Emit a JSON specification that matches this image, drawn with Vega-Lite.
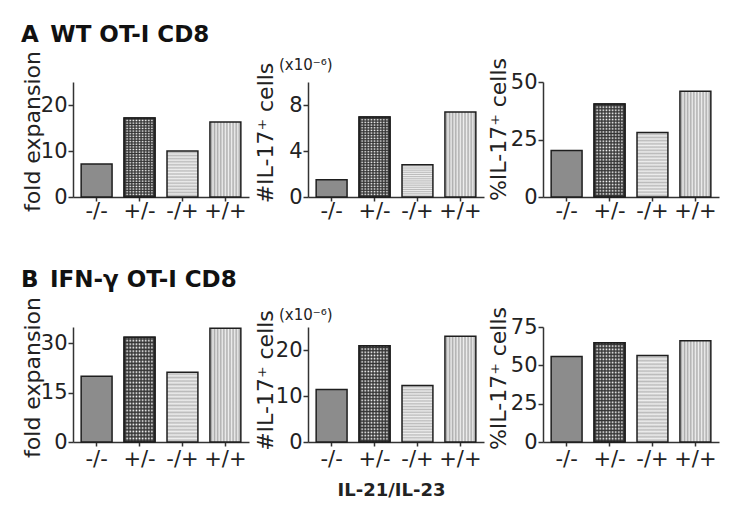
{
"$schema":"https://vega.github.io/schema/vega-lite/v6.json",
"background":"white",
"padding":{"left":21,"top":23,"right":5,"bottom":5},
"params":[
 {"name":"vs10","value":{"gradient":"linear","x1":0,"y1":0,"x2":1,"y2":0,"stops":[{"offset":0,"color":"#eee"},{"offset":0.05,"color":"#aaa"},{"offset":0.1,"color":"#eee"},{"offset":0.15,"color":"#aaa"},{"offset":0.2,"color":"#eee"},{"offset":0.25,"color":"#aaa"},{"offset":0.3,"color":"#eee"},{"offset":0.35,"color":"#aaa"},{"offset":0.4,"color":"#eee"},{"offset":0.45,"color":"#aaa"},{"offset":0.5,"color":"#eee"},{"offset":0.55,"color":"#aaa"},{"offset":0.6,"color":"#eee"},{"offset":0.65,"color":"#aaa"},{"offset":0.7,"color":"#eee"},{"offset":0.75,"color":"#aaa"},{"offset":0.8,"color":"#eee"},{"offset":0.85,"color":"#aaa"},{"offset":0.9,"color":"#eee"},{"offset":0.95,"color":"#aaa"},{"offset":1,"color":"#eee"}]}},
 {"name":"cv10","value":{"gradient":"linear","x1":0,"y1":0,"x2":1,"y2":0,"stops":[{"offset":0,"color":"#fff"},{"offset":0.05,"color":"#333"},{"offset":0.1,"color":"#fff"},{"offset":0.15,"color":"#333"},{"offset":0.2,"color":"#fff"},{"offset":0.25,"color":"#333"},{"offset":0.3,"color":"#fff"},{"offset":0.35,"color":"#333"},{"offset":0.4,"color":"#fff"},{"offset":0.45,"color":"#333"},{"offset":0.5,"color":"#fff"},{"offset":0.55,"color":"#333"},{"offset":0.6,"color":"#fff"},{"offset":0.65,"color":"#333"},{"offset":0.7,"color":"#fff"},{"offset":0.75,"color":"#333"},{"offset":0.8,"color":"#fff"},{"offset":0.85,"color":"#333"},{"offset":0.9,"color":"#fff"},{"offset":0.95,"color":"#333"},{"offset":1,"color":"#fff"}]}},
 {"name":"ch30","value":{"gradient":"linear","x1":0,"y1":0,"x2":0,"y2":1,"stops":[{"offset":0,"color":"rgba(51,51,51,0)"},{"offset":0.0167,"color":"#333"},{"offset":0.0333,"color":"rgba(51,51,51,0)"},{"offset":0.05,"color":"#333"},{"offset":0.0667,"color":"rgba(51,51,51,0)"},{"offset":0.0833,"color":"#333"},{"offset":0.1,"color":"rgba(51,51,51,0)"},{"offset":0.1167,"color":"#333"},{"offset":0.1333,"color":"rgba(51,51,51,0)"},{"offset":0.15,"color":"#333"},{"offset":0.1667,"color":"rgba(51,51,51,0)"},{"offset":0.1833,"color":"#333"},{"offset":0.2,"color":"rgba(51,51,51,0)"},{"offset":0.2167,"color":"#333"},{"offset":0.2333,"color":"rgba(51,51,51,0)"},{"offset":0.25,"color":"#333"},{"offset":0.2667,"color":"rgba(51,51,51,0)"},{"offset":0.2833,"color":"#333"},{"offset":0.3,"color":"rgba(51,51,51,0)"},{"offset":0.3167,"color":"#333"},{"offset":0.3333,"color":"rgba(51,51,51,0)"},{"offset":0.35,"color":"#333"},{"offset":0.3667,"color":"rgba(51,51,51,0)"},{"offset":0.3833,"color":"#333"},{"offset":0.4,"color":"rgba(51,51,51,0)"},{"offset":0.4167,"color":"#333"},{"offset":0.4333,"color":"rgba(51,51,51,0)"},{"offset":0.45,"color":"#333"},{"offset":0.4667,"color":"rgba(51,51,51,0)"},{"offset":0.4833,"color":"#333"},{"offset":0.5,"color":"rgba(51,51,51,0)"},{"offset":0.5167,"color":"#333"},{"offset":0.5333,"color":"rgba(51,51,51,0)"},{"offset":0.55,"color":"#333"},{"offset":0.5667,"color":"rgba(51,51,51,0)"},{"offset":0.5833,"color":"#333"},{"offset":0.6,"color":"rgba(51,51,51,0)"},{"offset":0.6167,"color":"#333"},{"offset":0.6333,"color":"rgba(51,51,51,0)"},{"offset":0.65,"color":"#333"},{"offset":0.6667,"color":"rgba(51,51,51,0)"},{"offset":0.6833,"color":"#333"},{"offset":0.7,"color":"rgba(51,51,51,0)"},{"offset":0.7167,"color":"#333"},{"offset":0.7333,"color":"rgba(51,51,51,0)"},{"offset":0.75,"color":"#333"},{"offset":0.7667,"color":"rgba(51,51,51,0)"},{"offset":0.7833,"color":"#333"},{"offset":0.8,"color":"rgba(51,51,51,0)"},{"offset":0.8167,"color":"#333"},{"offset":0.8333,"color":"rgba(51,51,51,0)"},{"offset":0.85,"color":"#333"},{"offset":0.8667,"color":"rgba(51,51,51,0)"},{"offset":0.8833,"color":"#333"},{"offset":0.9,"color":"rgba(51,51,51,0)"},{"offset":0.9167,"color":"#333"},{"offset":0.9333,"color":"rgba(51,51,51,0)"},{"offset":0.95,"color":"#333"},{"offset":0.9667,"color":"rgba(51,51,51,0)"},{"offset":0.9833,"color":"#333"},{"offset":1,"color":"rgba(51,51,51,0)"}]}},
 {"name":"hs15","value":{"gradient":"linear","x1":0,"y1":0,"x2":0,"y2":1,"stops":[{"offset":0,"color":"#eee"},{"offset":0.0333,"color":"#bbb"},{"offset":0.0667,"color":"#eee"},{"offset":0.1,"color":"#bbb"},{"offset":0.1333,"color":"#eee"},{"offset":0.1667,"color":"#bbb"},{"offset":0.2,"color":"#eee"},{"offset":0.2333,"color":"#bbb"},{"offset":0.2667,"color":"#eee"},{"offset":0.3,"color":"#bbb"},{"offset":0.3333,"color":"#eee"},{"offset":0.3667,"color":"#bbb"},{"offset":0.4,"color":"#eee"},{"offset":0.4333,"color":"#bbb"},{"offset":0.4667,"color":"#eee"},{"offset":0.5,"color":"#bbb"},{"offset":0.5333,"color":"#eee"},{"offset":0.5667,"color":"#bbb"},{"offset":0.6,"color":"#eee"},{"offset":0.6333,"color":"#bbb"},{"offset":0.6667,"color":"#eee"},{"offset":0.7,"color":"#bbb"},{"offset":0.7333,"color":"#eee"},{"offset":0.7667,"color":"#bbb"},{"offset":0.8,"color":"#eee"},{"offset":0.8333,"color":"#bbb"},{"offset":0.8667,"color":"#eee"},{"offset":0.9,"color":"#bbb"},{"offset":0.9333,"color":"#eee"},{"offset":0.9667,"color":"#bbb"},{"offset":1,"color":"#eee"}]}},
 {"name":"hs20","value":{"gradient":"linear","x1":0,"y1":0,"x2":0,"y2":1,"stops":[{"offset":0,"color":"#eee"},{"offset":0.025,"color":"#bbb"},{"offset":0.05,"color":"#eee"},{"offset":0.075,"color":"#bbb"},{"offset":0.1,"color":"#eee"},{"offset":0.125,"color":"#bbb"},{"offset":0.15,"color":"#eee"},{"offset":0.175,"color":"#bbb"},{"offset":0.2,"color":"#eee"},{"offset":0.225,"color":"#bbb"},{"offset":0.25,"color":"#eee"},{"offset":0.275,"color":"#bbb"},{"offset":0.3,"color":"#eee"},{"offset":0.325,"color":"#bbb"},{"offset":0.35,"color":"#eee"},{"offset":0.375,"color":"#bbb"},{"offset":0.4,"color":"#eee"},{"offset":0.425,"color":"#bbb"},{"offset":0.45,"color":"#eee"},{"offset":0.475,"color":"#bbb"},{"offset":0.5,"color":"#eee"},{"offset":0.525,"color":"#bbb"},{"offset":0.55,"color":"#eee"},{"offset":0.575,"color":"#bbb"},{"offset":0.6,"color":"#eee"},{"offset":0.625,"color":"#bbb"},{"offset":0.65,"color":"#eee"},{"offset":0.675,"color":"#bbb"},{"offset":0.7,"color":"#eee"},{"offset":0.725,"color":"#bbb"},{"offset":0.75,"color":"#eee"},{"offset":0.775,"color":"#bbb"},{"offset":0.8,"color":"#eee"},{"offset":0.825,"color":"#bbb"},{"offset":0.85,"color":"#eee"},{"offset":0.875,"color":"#bbb"},{"offset":0.9,"color":"#eee"},{"offset":0.925,"color":"#bbb"},{"offset":0.95,"color":"#eee"},{"offset":0.975,"color":"#bbb"},{"offset":1,"color":"#eee"}]}},
 {"name":"hs25","value":{"gradient":"linear","x1":0,"y1":0,"x2":0,"y2":1,"stops":[{"offset":0,"color":"#eee"},{"offset":0.02,"color":"#bbb"},{"offset":0.04,"color":"#eee"},{"offset":0.06,"color":"#bbb"},{"offset":0.08,"color":"#eee"},{"offset":0.1,"color":"#bbb"},{"offset":0.12,"color":"#eee"},{"offset":0.14,"color":"#bbb"},{"offset":0.16,"color":"#eee"},{"offset":0.18,"color":"#bbb"},{"offset":0.2,"color":"#eee"},{"offset":0.22,"color":"#bbb"},{"offset":0.24,"color":"#eee"},{"offset":0.26,"color":"#bbb"},{"offset":0.28,"color":"#eee"},{"offset":0.3,"color":"#bbb"},{"offset":0.32,"color":"#eee"},{"offset":0.34,"color":"#bbb"},{"offset":0.36,"color":"#eee"},{"offset":0.38,"color":"#bbb"},{"offset":0.4,"color":"#eee"},{"offset":0.42,"color":"#bbb"},{"offset":0.44,"color":"#eee"},{"offset":0.46,"color":"#bbb"},{"offset":0.48,"color":"#eee"},{"offset":0.5,"color":"#bbb"},{"offset":0.52,"color":"#eee"},{"offset":0.54,"color":"#bbb"},{"offset":0.56,"color":"#eee"},{"offset":0.58,"color":"#bbb"},{"offset":0.6,"color":"#eee"},{"offset":0.62,"color":"#bbb"},{"offset":0.64,"color":"#eee"},{"offset":0.66,"color":"#bbb"},{"offset":0.68,"color":"#eee"},{"offset":0.7,"color":"#bbb"},{"offset":0.72,"color":"#eee"},{"offset":0.74,"color":"#bbb"},{"offset":0.76,"color":"#eee"},{"offset":0.78,"color":"#bbb"},{"offset":0.8,"color":"#eee"},{"offset":0.82,"color":"#bbb"},{"offset":0.84,"color":"#eee"},{"offset":0.86,"color":"#bbb"},{"offset":0.88,"color":"#eee"},{"offset":0.9,"color":"#bbb"},{"offset":0.92,"color":"#eee"},{"offset":0.94,"color":"#bbb"},{"offset":0.96,"color":"#eee"},{"offset":0.98,"color":"#bbb"},{"offset":1,"color":"#eee"}]}}
],
"datasets":{
"A1":[{"g":"-/-","v":7.2},{"g":"+/-","v":17.2},{"g":"-/+","v":10.0},{"g":"+/+","v":16.3}],
"A2":[{"g":"-/-","v":1.5},{"g":"+/-","v":6.95},{"g":"-/+","v":2.8},{"g":"+/+","v":7.4}],
"A3":[{"g":"-/-","v":20.2},{"g":"+/-","v":40.4},{"g":"-/+","v":28.0},{"g":"+/+","v":46.0}],
"B1":[{"g":"-/-","v":20.0},{"g":"+/-","v":31.9},{"g":"-/+","v":21.2},{"g":"+/+","v":34.6}],
"B2":[{"g":"-/-","v":11.4},{"g":"+/-","v":20.9},{"g":"-/+","v":12.3},{"g":"+/+","v":23.0}],
"B3":[{"g":"-/-","v":55.8},{"g":"+/-","v":64.7},{"g":"-/+","v":56.4},{"g":"+/+","v":66.0}]
},
"concat":[
{"width":176,"height":115,"data":{"name":"A1"},
 "title":{"text":"A\u2002WT OT-I CD8","anchor":"start","frame":"bounds","fontSize":23,"fontWeight":"bold","font":"DejaVu Sans","offset":4,"color":"#111"},
 "encoding":{
  "x":{"field":"g","type":"nominal","sort":null,"scale":{"domain":["-/-","+/-","-/+","+/+"],"paddingInner":0.28,"paddingOuter":0.19},"axis":{"title":null,"labelPadding":-1}},
  "y":{"field":"v","type":"quantitative","scale":{"domain":[0,25],"nice":false},"axis":{"title":"fold expansion","values":[0,10,20],"titleY":49,"minExtent":29,"maxExtent":29}}},
 "layer":[
  {"transform":[{"filter":"datum.g==='-/-'"}],"mark":{"type":"bar","fill":"#8c8c8c"}},
  {"transform":[{"filter":"datum.g==='+/-'"}],"mark":{"type":"bar","fill":{"expr":"cv10"}}},
  {"transform":[{"filter":"datum.g==='+/-'"}],"mark":{"type":"bar","fill":{"expr":"ch30"}}},
  {"transform":[{"filter":"datum.g==='-/+'"}],"mark":{"type":"bar","fill":{"expr":"hs15"}}},
  {"transform":[{"filter":"datum.g==='+/+'"}],"mark":{"type":"bar","fill":{"expr":"vs10"}}}]},
{"width":176,"height":115,"data":{"name":"A2"},
 "title":{"text":"(x10⁻⁶)","anchor":"start","frame":"group","dx":-29,"fontSize":15,"fontWeight":"normal","font":"DejaVu Sans","offset":-11,"color":"#222"},
 "encoding":{
  "x":{"field":"g","type":"nominal","sort":null,"scale":{"domain":["-/-","+/-","-/+","+/+"],"paddingInner":0.28,"paddingOuter":0.19},"axis":{"title":null,"labelPadding":-1}},
  "y":{"field":"v","type":"quantitative","scale":{"domain":[0,10],"nice":false},"axis":{"title":"#IL-17⁺ cells","values":[0,4,8],"titleY":50.5,"minExtent":30.5,"maxExtent":30.5}}},
 "layer":[
  {"transform":[{"filter":"datum.g==='-/-'"}],"mark":{"type":"bar","fill":"#8c8c8c"}},
  {"transform":[{"filter":"datum.g==='+/-'"}],"mark":{"type":"bar","fill":{"expr":"cv10"}}},
  {"transform":[{"filter":"datum.g==='+/-'"}],"mark":{"type":"bar","fill":{"expr":"ch30"}}},
  {"transform":[{"filter":"datum.g==='-/+'"}],"mark":{"type":"bar","fill":{"expr":"hs15"}}},
  {"transform":[{"filter":"datum.g==='+/+'"}],"mark":{"type":"bar","fill":{"expr":"vs10"}}}]},
{"width":176,"height":115,"data":{"name":"A3"},
 "encoding":{
  "x":{"field":"g","type":"nominal","sort":null,"scale":{"domain":["-/-","+/-","-/+","+/+"],"paddingInner":0.28,"paddingOuter":0.19},"axis":{"title":null,"labelPadding":-1}},
  "y":{"field":"v","type":"quantitative","scale":{"domain":[0,50],"nice":false},"axis":{"title":"%IL-17⁺ cells","values":[0,25,50],"titleY":47,"minExtent":32.5,"maxExtent":32.5}}},
 "layer":[
  {"transform":[{"filter":"datum.g==='-/-'"}],"mark":{"type":"bar","fill":"#8c8c8c"}},
  {"transform":[{"filter":"datum.g==='+/-'"}],"mark":{"type":"bar","fill":{"expr":"cv10"}}},
  {"transform":[{"filter":"datum.g==='+/-'"}],"mark":{"type":"bar","fill":{"expr":"ch30"}}},
  {"transform":[{"filter":"datum.g==='-/+'"}],"mark":{"type":"bar","fill":{"expr":"hs20"}}},
  {"transform":[{"filter":"datum.g==='+/+'"}],"mark":{"type":"bar","fill":{"expr":"vs10"}}}]},
{"width":176,"height":115,"data":{"name":"B1"},
 "title":{"text":"B\u2002IFN-γ OT-I CD8","anchor":"start","frame":"bounds","fontSize":23,"fontWeight":"bold","font":"DejaVu Sans","offset":5,"color":"#111"},
 "encoding":{
  "x":{"field":"g","type":"nominal","sort":null,"scale":{"domain":["-/-","+/-","-/+","+/+"],"paddingInner":0.28,"paddingOuter":0.19},"axis":{"title":null,"labelPadding":2.5}},
  "y":{"field":"v","type":"quantitative","scale":{"domain":[0,35],"nice":false},"axis":{"title":"fold expansion","values":[0,15,30],"titleY":50,"minExtent":29,"maxExtent":29}}},
 "layer":[
  {"transform":[{"filter":"datum.g==='-/-'"}],"mark":{"type":"bar","fill":"#8c8c8c"}},
  {"transform":[{"filter":"datum.g==='+/-'"}],"mark":{"type":"bar","fill":{"expr":"cv10"}}},
  {"transform":[{"filter":"datum.g==='+/-'"}],"mark":{"type":"bar","fill":{"expr":"ch30"}}},
  {"transform":[{"filter":"datum.g==='-/+'"}],"mark":{"type":"bar","fill":{"expr":"hs20"}}},
  {"transform":[{"filter":"datum.g==='+/+'"}],"mark":{"type":"bar","fill":{"expr":"vs10"}}}]},
{"width":176,"height":115,"data":{"name":"B2"},
 "title":{"text":"(x10⁻⁶)","anchor":"start","frame":"group","dx":-29,"fontSize":15,"fontWeight":"normal","font":"DejaVu Sans","offset":-13.5,"color":"#222"},
 "encoding":{
  "x":{"field":"g","type":"nominal","sort":null,"scale":{"domain":["-/-","+/-","-/+","+/+"],"paddingInner":0.28,"paddingOuter":0.19},"axis":{"title":"IL-21/IL-23","titleFontWeight":"bold","titleFontSize":18,"titlePadding":12,"titleX":83,"labelPadding":2.5}},
  "y":{"field":"v","type":"quantitative","scale":{"domain":[0,25],"nice":false},"axis":{"title":"#IL-17⁺ cells","values":[0,10,20],"titleY":53,"minExtent":30.5,"maxExtent":30.5}}},
 "layer":[
  {"transform":[{"filter":"datum.g==='-/-'"}],"mark":{"type":"bar","fill":"#8c8c8c"}},
  {"transform":[{"filter":"datum.g==='+/-'"}],"mark":{"type":"bar","fill":{"expr":"cv10"}}},
  {"transform":[{"filter":"datum.g==='+/-'"}],"mark":{"type":"bar","fill":{"expr":"ch30"}}},
  {"transform":[{"filter":"datum.g==='-/+'"}],"mark":{"type":"bar","fill":{"expr":"hs20"}}},
  {"transform":[{"filter":"datum.g==='+/+'"}],"mark":{"type":"bar","fill":{"expr":"vs10"}}}]},
{"width":176,"height":115,"data":{"name":"B3"},
 "encoding":{
  "x":{"field":"g","type":"nominal","sort":null,"scale":{"domain":["-/-","+/-","-/+","+/+"],"paddingInner":0.28,"paddingOuter":0.19},"axis":{"title":null,"labelPadding":2.5}},
  "y":{"field":"v","type":"quantitative","scale":{"domain":[0,75],"nice":false},"axis":{"title":"%IL-17⁺ cells","values":[0,25,50,75],"titleY":51,"minExtent":32.5,"maxExtent":32.5}}},
 "layer":[
  {"transform":[{"filter":"datum.g==='-/-'"}],"mark":{"type":"bar","fill":"#8c8c8c"}},
  {"transform":[{"filter":"datum.g==='+/-'"}],"mark":{"type":"bar","fill":{"expr":"cv10"}}},
  {"transform":[{"filter":"datum.g==='+/-'"}],"mark":{"type":"bar","fill":{"expr":"ch30"}}},
  {"transform":[{"filter":"datum.g==='-/+'"}],"mark":{"type":"bar","fill":{"expr":"hs25"}}},
  {"transform":[{"filter":"datum.g==='+/+'"}],"mark":{"type":"bar","fill":{"expr":"vs10"}}}]}
],
"columns":3,
"spacing":{"row":130,"column":59},
"bounds":"flush",
"config":{
 "font":"DejaVu Sans",
 "view":{"stroke":null},
 "bar":{"stroke":"#1e1e1e","strokeWidth":1.5},
 "axis":{"domainColor":"#333","domainWidth":1.5,"tickColor":"#333","tickWidth":1.5,"labelColor":"#222","titleColor":"#222","labelFont":"DejaVu Sans","titleFont":"DejaVu Sans","labelFontSize":21,"titleFontSize":22,"titleFontWeight":"normal","grid":false},
 "axisX":{"labelAngle":0,"tickSize":4},
 "axisY":{"tickSize":5,"labelPadding":1,"titlePadding":0}
}
}
